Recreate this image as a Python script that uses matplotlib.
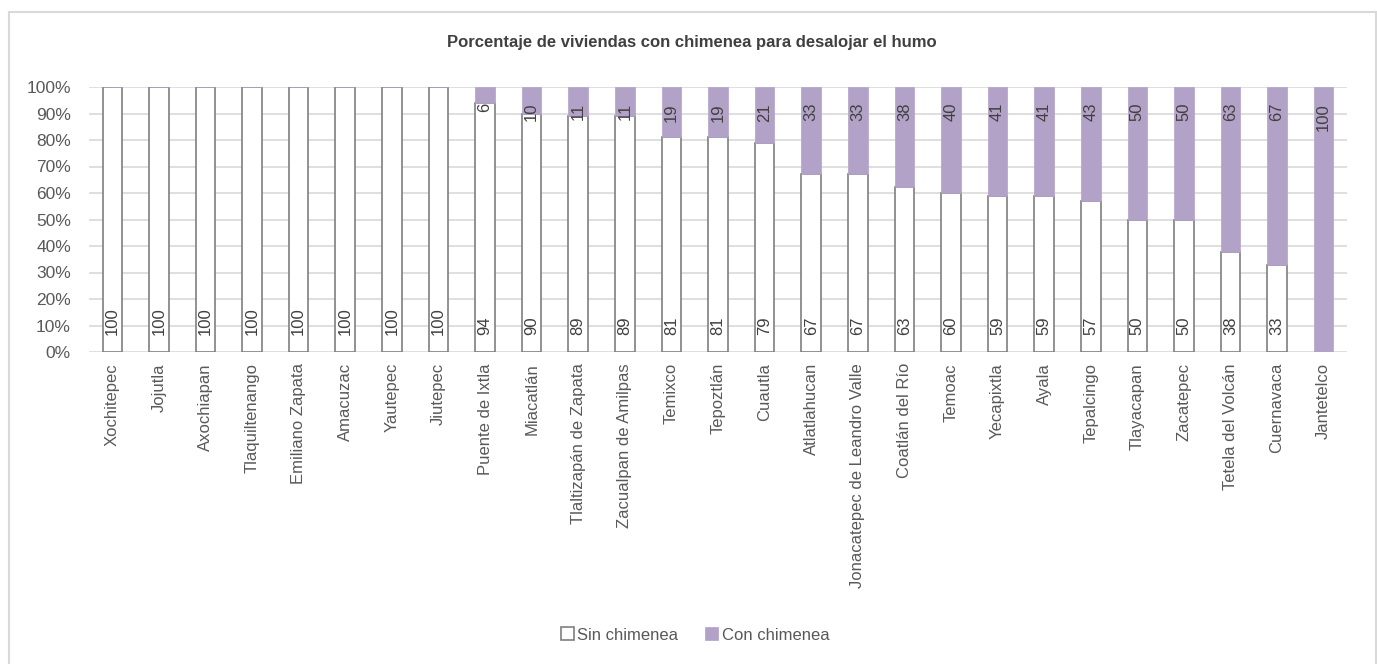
import matplotlib
matplotlib.use("Agg")
import matplotlib.pyplot as plt
from matplotlib.lines import Line2D
import numpy as np

categories = ["Xochitepec", "Jojutla", "Axochiapan", "Tlaquiltenango", "Emiliano Zapata",
              "Amacuzac", "Yautepec", "Jiutepec", "Puente de Ixtla", "Miacatlán",
              "Tlaltizapán de Zapata", "Zacualpan de Amilpas", "Temixco", "Tepoztlán",
              "Cuautla", "Atlatlahucan", "Jonacatepec de Leandro Valle", "Coatlán del Río",
              "Temoac", "Yecapixtla", "Ayala", "Tepalcingo", "Tlayacapan", "Zacatepec",
              "Tetela del Volcán", "Cuernavaca", "Jantetelco"]
sin_chimenea = [100, 100, 100, 100, 100, 100, 100, 100, 94, 90, 89, 89, 81, 81, 79,
                67, 67, 63, 60, 59, 59, 57, 50, 50, 38, 33, 0]
con_chimenea = [0, 0, 0, 0, 0, 0, 0, 0, 6, 10, 11, 11, 19, 19, 21,
                33, 33, 38, 40, 41, 41, 43, 50, 50, 63, 67, 100]
yticks = [0, 10, 20, 30, 40, 50, 60, 70, 80, 90, 100]
title = "Porcentaje de viviendas con chimenea para desalojar el humo"

plt.rcParams['font.family'] = ['Liberation Sans', 'DejaVu Sans']
TXT = '#595959'
PURPLE = '#b3a2c7'
EDGE = '#7f7f7f'

W, H = 1377, 664
fig = plt.figure(figsize=(W / 100, H / 100), dpi=100)
# outer chart border (top, left, right)
bx0, bx1, by0 = 9 / W, 1376 / W, 1 - 12 / H
for xs, ys in [((bx0, bx1), (by0, by0)), ((bx0, bx0), (by0, -0.01)), ((bx1, bx1), (by0, -0.01))]:
    fig.lines.append(Line2D(xs, ys, transform=fig.transFigure, color='#d9d9d9', linewidth=1.5))

ax = fig.add_axes([89 / W, 1 - 352 / H, (1347 - 89) / W, (352 - 87) / H])

sin = np.array(sin_chimenea, float)
con = np.array(con_chimenea, float)
tot = sin + con
sin_p = sin / tot * 100
con_p = con / tot * 100
x = np.arange(len(categories))
bw = 0.42

b1 = ax.bar(x, sin_p, bw, color='white', edgecolor=EDGE, linewidth=1.2, label='Sin chimenea', zorder=3)
b2 = ax.bar(x, con_p, bw, bottom=sin_p, color=PURPLE, edgecolor=PURPLE, linewidth=0.5,
            label='Con chimenea', zorder=3)

for i in range(len(categories)):
    if sin[i] > 0:
        ax.annotate(f"{int(sin[i])}", (x[i], 0), xytext=(0, 12), textcoords='offset points',
                    rotation=90, ha='center', va='bottom', fontsize=12, color='#404040', zorder=4)
    if con[i] > 0:
        ax.annotate(f"{int(con[i])}", (x[i], 100), xytext=(0, -11.5), textcoords='offset points',
                    rotation=90, ha='center', va='top', fontsize=12, color='#404040', zorder=4)

ax.set_xlim(-0.5, len(categories) - 0.5)
ax.set_ylim(0, 100)
ax.set_yticks(yticks)
ax.set_yticklabels([f"{v}%" for v in yticks], fontsize=12.5, color=TXT)
ax.set_xticks(x)
ax.set_xticklabels(categories, rotation=90, fontsize=12, color=TXT)
ax.tick_params(axis='both', length=0, pad=8)
ax.tick_params(axis='y', pad=13)
ax.grid(axis='y', color='#d9d9d9', linewidth=1.2, zorder=0)
for s in ax.spines.values():
    s.set_visible(False)

fig.text(692 / W, 1 - 43 / H, title, ha='center', va='center', fontsize=12,
         fontweight='bold', color='#404040')

leg = fig.legend(handles=[b1, b2], loc='center', bbox_to_anchor=(695 / W, 1 - 635 / H), ncol=2,
                 frameon=False, fontsize=12, handlelength=0.8, handleheight=0.8,
                 handletextpad=0.2, columnspacing=1.6)
for t in leg.get_texts():
    t.set_color(TXT)

fig.savefig("out.png", dpi=100)
